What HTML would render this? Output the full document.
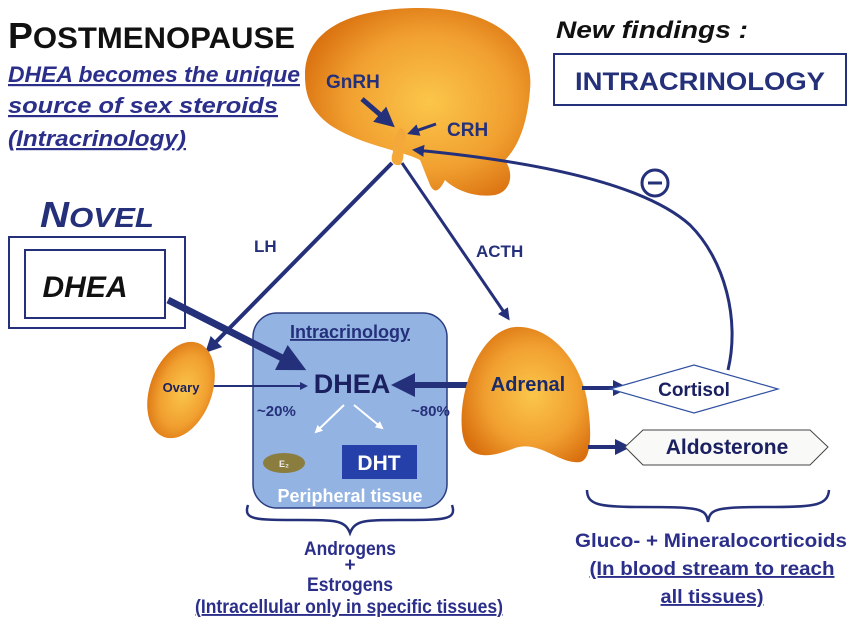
<!DOCTYPE html>
<html><head><meta charset="utf-8"><style>
html,body{margin:0;padding:0;background:#fff}
svg{display:block}
text{font-family:"Liberation Sans",sans-serif;font-weight:bold}
</style></head><body>
<svg width="850" height="638" viewBox="0 0 850 638" xmlns="http://www.w3.org/2000/svg">
<defs>
<radialGradient id="og" cx="55%" cy="50%" r="60%">
<stop offset="0" stop-color="#fbc64a"/><stop offset="0.6" stop-color="#f1a030"/><stop offset="1" stop-color="#d9700f"/></radialGradient>
<marker id="ah" markerWidth="4" markerHeight="4" refX="3" refY="2" orient="auto" markerUnits="strokeWidth"><path d="M0,0 L4,2 L0,4 z" fill="#25307a"/></marker>
<marker id="ahw" markerWidth="4" markerHeight="4" refX="3" refY="2" orient="auto" markerUnits="strokeWidth"><path d="M0,0 L4,2 L0,4 z" fill="#fff"/></marker>
</defs>
<path d="M305,75 C305,30 350,8 420,8 C490,8 535,40 530,90 C527,130 515,150 505,160 C515,175 510,192 495,195 C475,198 455,190 445,180 C440,190 435,195 430,185 L420,160 C400,150 360,145 330,125 C310,110 305,95 305,75Z" fill="url(#og)"/>
<path d="M400,128 C395,135 392,145 393,152 C390,160 392,166 400,165 C406,158 402,150 404,142 C408,135 406,128 400,128Z" fill="#f4a83a"/>
<text x="326" y="88" font-size="19" fill="#25307a">GnRH</text>
<text x="447" y="136" font-size="19" fill="#25307a">CRH</text>
<line x1="362" y1="99" x2="391" y2="124" stroke="#25307a" stroke-width="5" marker-end="url(#ah)"/>
<line x1="436" y1="124" x2="410" y2="133" stroke="#25307a" stroke-width="3" marker-end="url(#ah)"/>
<path d="M728,370 C740,320 725,260 690,225 C640,180 520,160 415,150" fill="none" stroke="#25307a" stroke-width="3" marker-end="url(#ah)"/>
<circle cx="655" cy="183" r="13" fill="none" stroke="#25307a" stroke-width="3"/>
<line x1="648" y1="183" x2="662" y2="183" stroke="#25307a" stroke-width="3"/>
<line x1="392" y1="163" x2="208" y2="350" stroke="#25307a" stroke-width="4" marker-end="url(#ah)"/>
<line x1="402" y1="163" x2="508" y2="318" stroke="#25307a" stroke-width="3" marker-end="url(#ah)"/>
<text x="254" y="252" font-size="17" fill="#25307a">LH</text>
<text x="476" y="257" font-size="17" fill="#25307a">ACTH</text>
<text x="8" y="48" font-size="36" fill="#111" textLength="287" lengthAdjust="spacingAndGlyphs">P<tspan font-size="30">OSTMENOPAUSE</tspan></text>
<g font-style="italic" font-size="22" fill="#2b2f8a" text-decoration="underline">
<text x="8" y="82" textLength="292" lengthAdjust="spacingAndGlyphs">DHEA becomes the unique</text>
<text x="8" y="113" textLength="270" lengthAdjust="spacingAndGlyphs">source of sex steroids</text>
<text x="8" y="146" textLength="178" lengthAdjust="spacingAndGlyphs">(Intracrinology)</text></g>
<text x="556" y="38" font-size="24" font-style="italic" fill="#111" textLength="192" lengthAdjust="spacingAndGlyphs">New findings :</text>
<rect x="554" y="54" width="292" height="51" fill="#fff" stroke="#25307a" stroke-width="2"/>
<text x="700" y="90" font-size="25" fill="#25307a" text-anchor="middle" textLength="250" lengthAdjust="spacingAndGlyphs">INTRACRINOLOGY</text>
<text x="40" y="227" font-size="36" font-style="italic" fill="#25307a" textLength="114" lengthAdjust="spacingAndGlyphs">N<tspan font-size="28">OVEL</tspan></text>
<rect x="9" y="237" width="176" height="91" fill="#fff" stroke="#25307a" stroke-width="2"/>
<rect x="25" y="250" width="140" height="68" fill="#fff" stroke="#25307a" stroke-width="2"/>
<text x="85" y="297" font-size="30" font-style="italic" fill="#111" text-anchor="middle">DHEA</text>
<rect x="253" y="313" width="194" height="195" rx="24" fill="#93b3e3" stroke="#2b3d80" stroke-width="1.5"/>
<text x="350" y="338" font-size="18" fill="#25307a" text-anchor="middle" text-decoration="underline">Intracrinology</text>
<line x1="168" y1="300" x2="300" y2="367" stroke="#25307a" stroke-width="7" marker-end="url(#ah)"/>
<text x="352" y="393" font-size="27" fill="#1a2060" text-anchor="middle">DHEA</text>
<line x1="212" y1="386" x2="306" y2="386" stroke="#25307a" stroke-width="2" marker-end="url(#ah)"/>
<line x1="490" y1="385" x2="397" y2="385" stroke="#25307a" stroke-width="6" marker-end="url(#ah)"/>
<text x="257" y="416" font-size="15" fill="#25307a">~20%</text>
<text x="411" y="416" font-size="15" fill="#25307a">~80%</text>
<line x1="344" y1="405" x2="316" y2="432" stroke="#fff" stroke-width="2" marker-end="url(#ahw)"/>
<line x1="354" y1="405" x2="382" y2="428" stroke="#fff" stroke-width="2" marker-end="url(#ahw)"/>
<ellipse cx="284" cy="463" rx="21" ry="10" fill="#8a7d3e"/>
<text x="284" y="467" font-size="9" fill="#eee" text-anchor="middle" font-weight="normal">E₂</text>
<rect x="342" y="445" width="75" height="34" fill="#2540a8"/>
<text x="379" y="470" font-size="21" fill="#fff" text-anchor="middle" font-weight="normal">DHT</text>
<text x="350" y="502" font-size="18" fill="#fff" text-anchor="middle" font-weight="normal">Peripheral tissue</text>
<ellipse cx="181" cy="390" rx="31" ry="50" transform="rotate(20 181 390)" fill="url(#og)"/>
<text x="181" y="392" font-size="13" fill="#1a2060" text-anchor="middle">Ovary</text>
<path d="M515,327 C550,325 580,360 587,400 C592,430 592,460 580,462 C560,465 540,440 515,448 C490,458 465,462 462,430 C458,390 480,330 515,327Z" fill="url(#og)"/>
<text x="528" y="391" font-size="20" fill="#1a2a6a" text-anchor="middle">Adrenal</text>
<line x1="582" y1="388" x2="625" y2="388" stroke="#25307a" stroke-width="4" marker-end="url(#ah)"/>
<line x1="588" y1="447" x2="627" y2="447" stroke="#25307a" stroke-width="4" marker-end="url(#ah)"/>
<path d="M610,389 L694,365 L778,389 L694,413Z" fill="#fff" stroke="#3050a0" stroke-width="1.2"/>
<text x="694" y="396" font-size="19" fill="#1a2060" text-anchor="middle" font-weight="normal">Cortisol</text>
<path d="M625,447 L643,430 L810,430 L828,447 L810,465 L643,465Z" fill="#f9f9f7" stroke="#444" stroke-width="1"/>
<text x="727" y="454" font-size="21" fill="#1a2060" text-anchor="middle">Aldosterone</text>
<path d="M248,505 C243,520 255,520 300,520 C335,520 345,520 350,533 C355,520 365,520 400,520 C445,520 457,520 452,505" fill="none" stroke="#25307a" stroke-width="2.5"/>
<path d="M587,490 C587,505 600,507 640,507 C700,507 706,508 708,522 C710,508 716,507 775,507 C815,507 828,505 829,490" fill="none" stroke="#25307a" stroke-width="2.5"/>
<g font-size="19" fill="#2b2f8a" text-anchor="middle">
<text x="350" y="555" textLength="92" lengthAdjust="spacingAndGlyphs">Androgens</text>
<text x="350" y="571">+</text>
<text x="350" y="591" textLength="86" lengthAdjust="spacingAndGlyphs">Estrogens</text>
<text x="349" y="613" text-decoration="underline" textLength="308" lengthAdjust="spacingAndGlyphs">(Intracellular only in specific tissues)</text>
<text x="711" y="547" textLength="272" lengthAdjust="spacingAndGlyphs">Gluco- + Mineralocorticoids</text>
<text x="712" y="575" text-decoration="underline" textLength="245" lengthAdjust="spacingAndGlyphs">(In blood stream to reach</text>
<text x="712" y="603" text-decoration="underline" textLength="103" lengthAdjust="spacingAndGlyphs">all tissues)</text>
</g>
</svg>
</body></html>
